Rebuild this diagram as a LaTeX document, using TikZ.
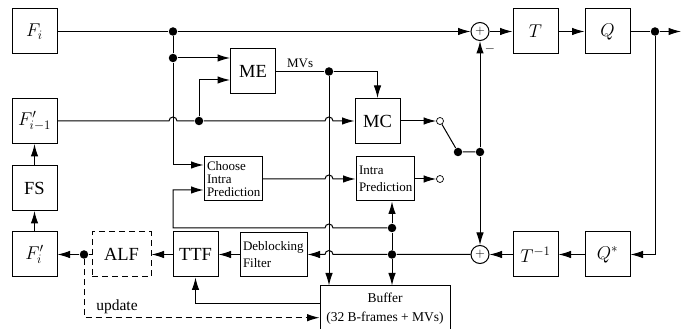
\documentclass[tikz,border=0pt]{standalone}
\usepackage{fix-cm}
\usepackage{amsmath}
\usepackage{fontspec}
\setmainfont{Liberation Serif}
\usepackage{tikz}
\usetikzlibrary{arrows.meta, positioning, calc}

\newcommand{\blockfont}{\fontsize{18.5}{22}\selectfont}
\newcommand{\notefont}{\fontsize{13}{17}\selectfont}
\newcommand{\hopright}{arc[start angle=180, end angle=0, radius=4pt]}
\newcommand{\hopleft}{arc[start angle=0, end angle=180, radius=4pt]}

\begin{document}
\begin{tikzpicture}[
    x=1pt, y=1pt, line width=1pt,
    node distance=26pt,
    block/.style={rectangle, draw, minimum width=45pt, minimum height=45pt, inner sep=2pt, font=\blockfont},
    textblock/.style={rectangle, draw, minimum width=58pt, minimum height=44pt, text width=52pt, inner sep=3pt, align=left, font=\notefont},
    adder/.style={circle, draw, minimum size=18pt, inner sep=0pt, font=\notefont},
    jdot/.style={circle, fill, inner sep=0pt, minimum size=8.5pt},
    tap/.style={circle, draw, fill=white, inner sep=0pt, minimum size=7pt, line width=0.7pt},
    arrow/.style={-{Latex[length=12.5pt, width=7.5pt]}},
    dashline/.style={dash pattern=on 6pt off 4pt}
]
    \useasboundingbox (0,0) rectangle (689,329);

    % linke Spalte
    \node[block] (Fi) at (34.5,297.5) {$F_i$};
    \node[block] (Fim1) at (34.5,208) {$F'_{i-1}$};
    \node[block] (FS) at (34.5,141) {FS};
    \node[block] (Fpi) at (34.5,74.5) {$F'_i$};

    % Praediktion
    \node[block] (ME) at (253,257.5) {ME};
    \node[block] (MC) at (377.5,208) {MC};
    \node[textblock, font=\fontsize{13}{13}\selectfont] (choose) at (233,150) {Choose\\Intra\\Prediction};
    \node[textblock] (intra) at (385,150) {Intra\\Prediction};

    % obere Reihe
    \node[adder] (sub) at (480,297.5) {$+$};
    \node[block, right=23pt of sub] (T) {$T$};
    \node[block, right=of T] (Q) {$Q$};
    \node[font=\notefont] (minus) at ($(sub)+(10,-18)$) {$-$};

    % untere Reihe
    \node[adder] (add) at (480,74.5) {$+$};
    \node[block, right=23pt of add] (Tinv) {$T^{-1}$};
    \node[block, right=of Tinv] (Qs) {$Q^*$};
    \node[textblock, minimum width=67pt, text width=61pt] (deblock) at (273.5,74.5) {Deblocking\\Filter};
    \node[block] (TTF) at (195.5,74.5) {TTF};
    \node[block, dashline, minimum width=59pt] (ALF) at (121.5,74.5) {ALF};
    \node[rectangle, draw, minimum width=130pt, minimum height=46pt, align=center, font=\fontsize{13.5}{19}\selectfont] (buffer) at (385,20) {Buffer\\(32 B-frames + MVs)};

    % Verzweigungen
    \node[jdot] (j1) at (173,297.5) {};
    \node[jdot] (j2) at (173,271) {};
    \node[jdot] (j3) at (199,208) {};
    \node[jdot] (j4) at (329,257.5) {};
    \node[jdot] (j5) at (458,177) {};
    \node[jdot] (j6) at (480,177) {};
    \node[jdot] (j7) at (392,101) {};
    \node[jdot] (j8) at (392,74.5) {};
    \node[jdot] (j9) at (84,74.5) {};
    \node[jdot] (j10) at (655,297.5) {};
    \node[tap] (tap1) at (440,208) {};
    \node[tap] (tap2) at (440,150) {};
    \coordinate (out) at (681,297.5);

    % Pfeile oben
    \draw[arrow] (Fi) -- (j1) -- (sub);
    \draw (j1) -- (j2);
    \draw[arrow] (j2) -- (ME.west |- j2);
    \draw[arrow] (j2) |- ([yshift=14pt]choose.west);
    \draw[arrow] (Fim1) -- ($(j1 |- Fim1)+(-4,0)$) \hopright -- (j3) -- ($(j4 |- Fim1)+(-4,0)$) \hopright -- (MC);
    \draw[arrow] (j3) |- ([yshift=-8.5pt]ME.west);
    \draw (ME) -- node[above, font=\notefont] {MVs} (j4);
    \draw[arrow] (j4) -| (MC);
    \draw[arrow] (j4) -- (j4 |- buffer.north);
    \draw[arrow] (choose) -- ($(j4 |- choose)+(-4,0)$) \hopright -- (intra);
    \draw[arrow] (MC) -- (tap1);
    \draw[arrow] (intra) -- (tap2);
    \draw (tap1) -- (j5) -- (j6);
    \draw[arrow] (j6) -- (sub);
    \draw[arrow] (j6) -- (add);
    \draw[arrow] (sub) -- (T);
    \draw[arrow] (T) -- (Q);
    \draw[arrow] (Q) -- (j10) -- (out);
    \draw[arrow] (j10) |- (Qs);

    % Pfeile unten
    \draw[arrow] (Qs) -- (Tinv);
    \draw[arrow] (Tinv) -- (add);
    \draw[arrow] (add) -- (j8) -- ($(j4 |- add)+(4,0)$) \hopleft -- (deblock);
    \draw (j8) -- (j7);
    \draw[arrow] (j7) -- (j7 |- intra.south);
    \draw[arrow] (j8) -- (j8 |- buffer.north);
    \draw[arrow] (j7) -- ($(j4 |- j7)+(4,0)$) \hopleft -- (j1 |- j7) |- ([yshift=-11pt]choose.west);
    \draw[arrow] (deblock) -- (TTF);
    \draw[arrow] (TTF) -- (ALF);
    \draw[arrow] (ALF) -- (j9) -- (Fpi);
    \draw[arrow] (Fpi) -- (FS);
    \draw[arrow] (FS) -- (Fim1);
    \draw[arrow] ([yshift=5pt]buffer.west) -| (TTF);
    \draw[arrow, dashline] (j9) |- node[pos=0.57, above, font=\fontsize{15.5}{18}\selectfont] {update} ([yshift=-8.7pt]buffer.west);
\end{tikzpicture}
\end{document}
